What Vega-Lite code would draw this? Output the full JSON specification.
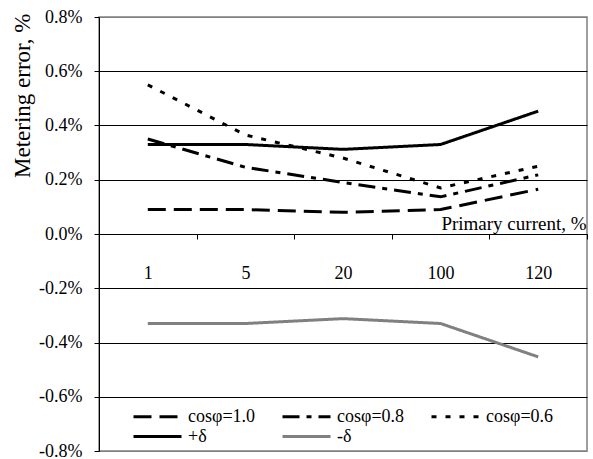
{
  "$schema": "https://vega.github.io/schema/vega-lite/v6.json",
  "width": 488,
  "height": 434,
  "autosize": {"type": "none"},
  "padding": {"left": 99, "top": 17, "right": 6, "bottom": 8},
  "background": "white",
  "config": {
    "font": "Liberation Serif",
    "axis": {"labelFont": "Liberation Serif", "titleFont": "Liberation Serif"},
    "legend": {"labelFont": "Liberation Serif", "titleFont": "Liberation Serif"},
    "view": {"stroke": "#808080", "strokeWidth": 1.5}
  },
  "data": {
    "values": [
      {"series": "cosφ=1.0", "current": "1", "error": 0.09},
      {"series": "cosφ=1.0", "current": "5", "error": 0.09},
      {"series": "cosφ=1.0", "current": "20", "error": 0.08},
      {"series": "cosφ=1.0", "current": "100", "error": 0.09},
      {"series": "cosφ=1.0", "current": "120", "error": 0.165},
      {"series": "cosφ=0.8", "current": "1", "error": 0.35},
      {"series": "cosφ=0.8", "current": "5", "error": 0.246},
      {"series": "cosφ=0.8", "current": "20", "error": 0.19},
      {"series": "cosφ=0.8", "current": "100", "error": 0.137},
      {"series": "cosφ=0.8", "current": "120", "error": 0.218},
      {"series": "cosφ=0.6", "current": "1", "error": 0.55},
      {"series": "cosφ=0.6", "current": "5", "error": 0.365},
      {"series": "cosφ=0.6", "current": "20", "error": 0.28},
      {"series": "cosφ=0.6", "current": "100", "error": 0.17},
      {"series": "cosφ=0.6", "current": "120", "error": 0.25},
      {"series": "+δ", "current": "1", "error": 0.33},
      {"series": "+δ", "current": "5", "error": 0.33},
      {"series": "+δ", "current": "20", "error": 0.312},
      {"series": "+δ", "current": "100", "error": 0.33},
      {"series": "+δ", "current": "120", "error": 0.453},
      {"series": "-δ", "current": "1", "error": -0.33},
      {"series": "-δ", "current": "5", "error": -0.33},
      {"series": "-δ", "current": "20", "error": -0.312},
      {"series": "-δ", "current": "100", "error": -0.33},
      {"series": "-δ", "current": "120", "error": -0.453}
    ]
  },
  "mark": {"type": "line", "strokeWidth": 3, "strokeCap": "butt"},
  "encoding": {
    "x": {
      "field": "current",
      "type": "ordinal",
      "sort": ["1", "5", "20", "100", "120"],
      "scale": {"type": "band", "paddingInner": 0, "paddingOuter": 0},
      "axis": {
        "orient": "bottom",
        "offset": -217,
        "labelAngle": 0,
        "labelFont": "Liberation Serif",
        "labelFontSize": 18,
        "labelColor": "black",
        "labelPadding": 25,
        "tickBand": "extent",
        "tickSize": 5,
        "tickColor": "black",
        "domainColor": "black",
        "grid": false,
        "title": "Primary current, %",
        "titleFont": "Liberation Serif",
        "titleFontSize": 19,
        "titleFontWeight": "normal",
        "titleColor": "black",
        "titleAlign": "right",
        "titleBaseline": "alphabetic",
        "titleAnchor": null,
        "titleX": 487,
        "titleY": -5
      }
    },
    "y": {
      "field": "error",
      "type": "quantitative",
      "scale": {"domain": [-0.8, 0.8], "nice": false, "zero": false},
      "axis": {
        "values": [-0.8, -0.6, -0.4, -0.2, 0, 0.2, 0.4, 0.6, 0.8],
        "labelExpr": "replace(format(datum.value, '.1f'), '\u2212', '-') + '%'",
        "labelFont": "Liberation Serif",
        "labelFontSize": 18,
        "labelColor": "black",
        "labelPadding": 12,
        "tickSize": 5,
        "tickColor": "black",
        "domainColor": "black",
        "grid": true,
        "gridColor": {"condition": {"test": "abs(datum.value) > 0.7", "value": "#808080"}, "value": "black"},
        "gridWidth": 1,
        "gridOpacity": 1,
        "title": "Metering error, %",
        "titleFont": "Liberation Serif",
        "titleFontSize": 23,
        "titleFontWeight": "normal",
        "titleColor": "black",
        "titleAngle": -90,
        "titleAlign": "right",
        "titleBaseline": "middle",
        "titleX": -77,
        "titleY": -4
      }
    },
    "color": {
      "field": "series",
      "type": "nominal",
      "scale": {
        "domain": ["cosφ=1.0", "cosφ=0.8", "cosφ=0.6", "+δ", "-δ"],
        "range": ["black", "black", "black", "black", "#808080"]
      },
      "legend": {
        "orient": "none",
        "direction": "horizontal",
        "legendX": 25,
        "legendY": 390,
        "columns": 3,
        "title": null,
        "padding": 0,
        "symbolType": "M0,0H6",
        "symbolSize": 256,
        "symbolStrokeWidth": 3,
        "labelFont": "Liberation Serif",
        "labelFontSize": 18,
        "labelColor": "black",
        "labelOffset": 45,
        "columnPadding": 17,
        "rowPadding": 1
      }
    },
    "strokeDash": {
      "field": "series",
      "type": "nominal",
      "scale": {
        "domain": ["cosφ=1.0", "cosφ=0.8", "cosφ=0.6", "+δ", "-δ"],
        "range": [[18, 8], [17, 7, 5, 7], [5, 9], [1, 0], [1, 0]]
      },
      "legend": null
    }
  }
}
